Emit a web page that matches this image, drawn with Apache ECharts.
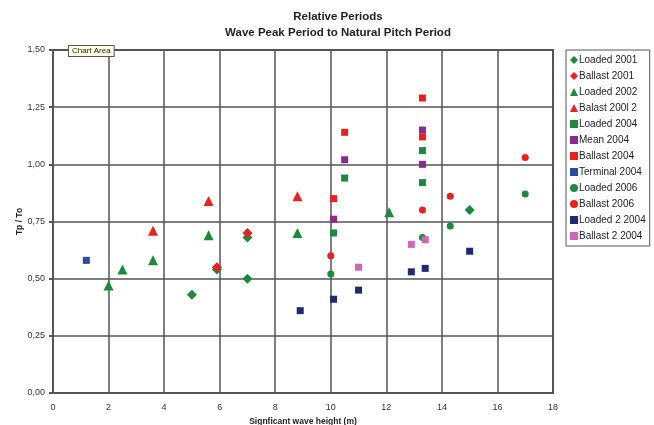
<!DOCTYPE html>
<html>
<head>
<meta charset="utf-8">
<script src="https://cdn.jsdelivr.net/npm/echarts@6/dist/echarts.min.js"></script>
<style>
html,body{margin:0;padding:0;background:#fff;}
#c{width:654px;height:425px;}
</style>
</head>
<body>
<div id="c"></div>
<script>
// Data: [wave height (m), Tp/To]
const loaded2001 = [[5.0,0.43],[5.9,0.54],[7.0,0.68],[7.0,0.50],[15.0,0.80]];
const ballast2001 = [[5.9,0.55],[7.0,0.70]];
const loaded2002 = [[2.0,0.47],[2.5,0.54],[3.6,0.58],[5.6,0.69],[8.8,0.70],[12.1,0.79]];
const balast2001_2 = [[3.6,0.71],[5.6,0.84],[8.8,0.86]];
const loaded2004 = [[10.1,0.70],[10.5,0.94],[13.3,1.06],[13.3,0.92]];
const mean2004 = [[10.1,0.76],[10.5,1.02],[13.3,1.15],[13.3,1.00]];
const ballast2004 = [[10.1,0.85],[10.5,1.14],[13.3,1.29],[13.3,1.12]];
const terminal2004 = [[1.2,0.58]];
const loaded2006 = [[10.0,0.52],[13.3,0.68],[14.3,0.73],[17.0,0.87]];
const ballast2006 = [[10.0,0.60],[13.3,0.80],[14.3,0.86],[17.0,1.03]];
const loaded2_2004 = [[8.9,0.36],[10.1,0.41],[11.0,0.45],[12.9,0.53],[13.4,0.545],[15.0,0.62]];
const ballast2_2004 = [[11.0,0.55],[12.9,0.65],[13.4,0.67]];

const seriesNames = ['Loaded 2001','Ballast 2001','Loaded 2002','Balast 200l 2','Loaded 2004','Mean 2004','Ballast 2004','Terminal 2004','Loaded 2006','Ballast 2006','Loaded 2 2004','Ballast 2 2004'];
const seriesData = [loaded2001,ballast2001,loaded2002,balast2001_2,loaded2004,mean2004,ballast2004,terminal2004,loaded2006,ballast2006,loaded2_2004,ballast2_2004];
const symbols = ['diamond','diamond','triangle','triangle','rect','rect','rect','rect','circle','circle','rect','rect'];
const colors = ['#1b8a3c','#e8211f','#1b8a3c','#e8211f','#1b8a3c','#8a2a8e','#e8211f','#2b4aa3','#1b8a3c','#e8211f','#1f2a70','#d164b4'];
const sizes = [10,10,10,10,7,7,7,7,7,7,7,7];

const chart = echarts.init(document.getElementById('c'), null, {renderer:'canvas'});
const series = seriesNames.map((n,i)=>({
  name:n, type:'scatter', data:seriesData[i], symbol:symbols[i], symbolSize:sizes[i],
  itemStyle:{color:colors[i], opacity:1}
}));

chart.setOption({
  backgroundColor:'#fff',
  animation:false,
  color:colors,
  title:{
    text:'Relative Periods\nWave Peak Period to Natural Pitch Period',
    left:333, top:4, textAlign:'center',
    textStyle:{fontFamily:'Liberation Sans, Arial', fontSize:11.5, fontWeight:'bold', color:'#222', lineHeight:16}
  },
  legend:{
    orient:'vertical', left:566, top:50, width:84,
    borderColor:'#555', borderWidth:1, padding:[4,4,4,4],
    itemWidth:8, itemHeight:8, itemGap:4,
    data:seriesNames.map((n,i)=>({name:n, icon:symbols[i]})),
    textStyle:{fontFamily:'Liberation Sans, Arial', fontSize:10, color:'#222', lineHeight:12, padding:[0,0,0,-4]}
  },
  grid:{left:53, right:101, top:50, bottom:32, show:true, borderColor:'#555', borderWidth:2,
    containLabel:false, outerBoundsMode:'none'},
  xAxis:{
    type:'value', min:0, max:18, interval:2,
    name:'Signficant wave height (m)', nameLocation:'middle', nameGap:24, nameMoveOverlap:false,
    nameTextStyle:{fontFamily:'Liberation Sans, Arial', fontSize:8.5, fontWeight:'bold', color:'#222'},
    axisLine:{show:true, lineStyle:{color:'#555', width:2}},
    axisTick:{show:false},
    axisLabel:{fontFamily:'Liberation Sans, Arial', fontSize:9, color:'#333', margin:10},
    splitLine:{show:true, lineStyle:{color:'#555', width:1.5}}
  },
  yAxis:{
    type:'value', min:0, max:1.5, interval:0.25,
    name:'Tp / To', nameLocation:'middle', nameGap:29, nameRotate:90, nameMoveOverlap:false,
    nameTextStyle:{fontFamily:'Liberation Sans, Arial', fontSize:8.5, fontWeight:'bold', color:'#222'},
    axisLine:{show:true, lineStyle:{color:'#555', width:2}},
    axisTick:{show:true, length:4, inside:false, lineStyle:{color:'#555', width:2}},
    axisLabel:{fontFamily:'Liberation Sans, Arial', fontSize:9, color:'#333', margin:8,
      formatter:v=>v.toFixed(2).replace('.',',')},
    splitLine:{show:true, lineStyle:{color:'#555', width:1.5}}
  },
  graphic:[{
    type:'text', left:68, top:45, z:100,
    style:{text:'Chart Area', fontFamily:'Liberation Sans, Arial', fontSize:8, fill:'#222',
      backgroundColor:'#ffffe1', borderColor:'#555', borderWidth:1, padding:[1,3,1,3]}
  }],
  series:series
});
</script>
</body>
</html>
